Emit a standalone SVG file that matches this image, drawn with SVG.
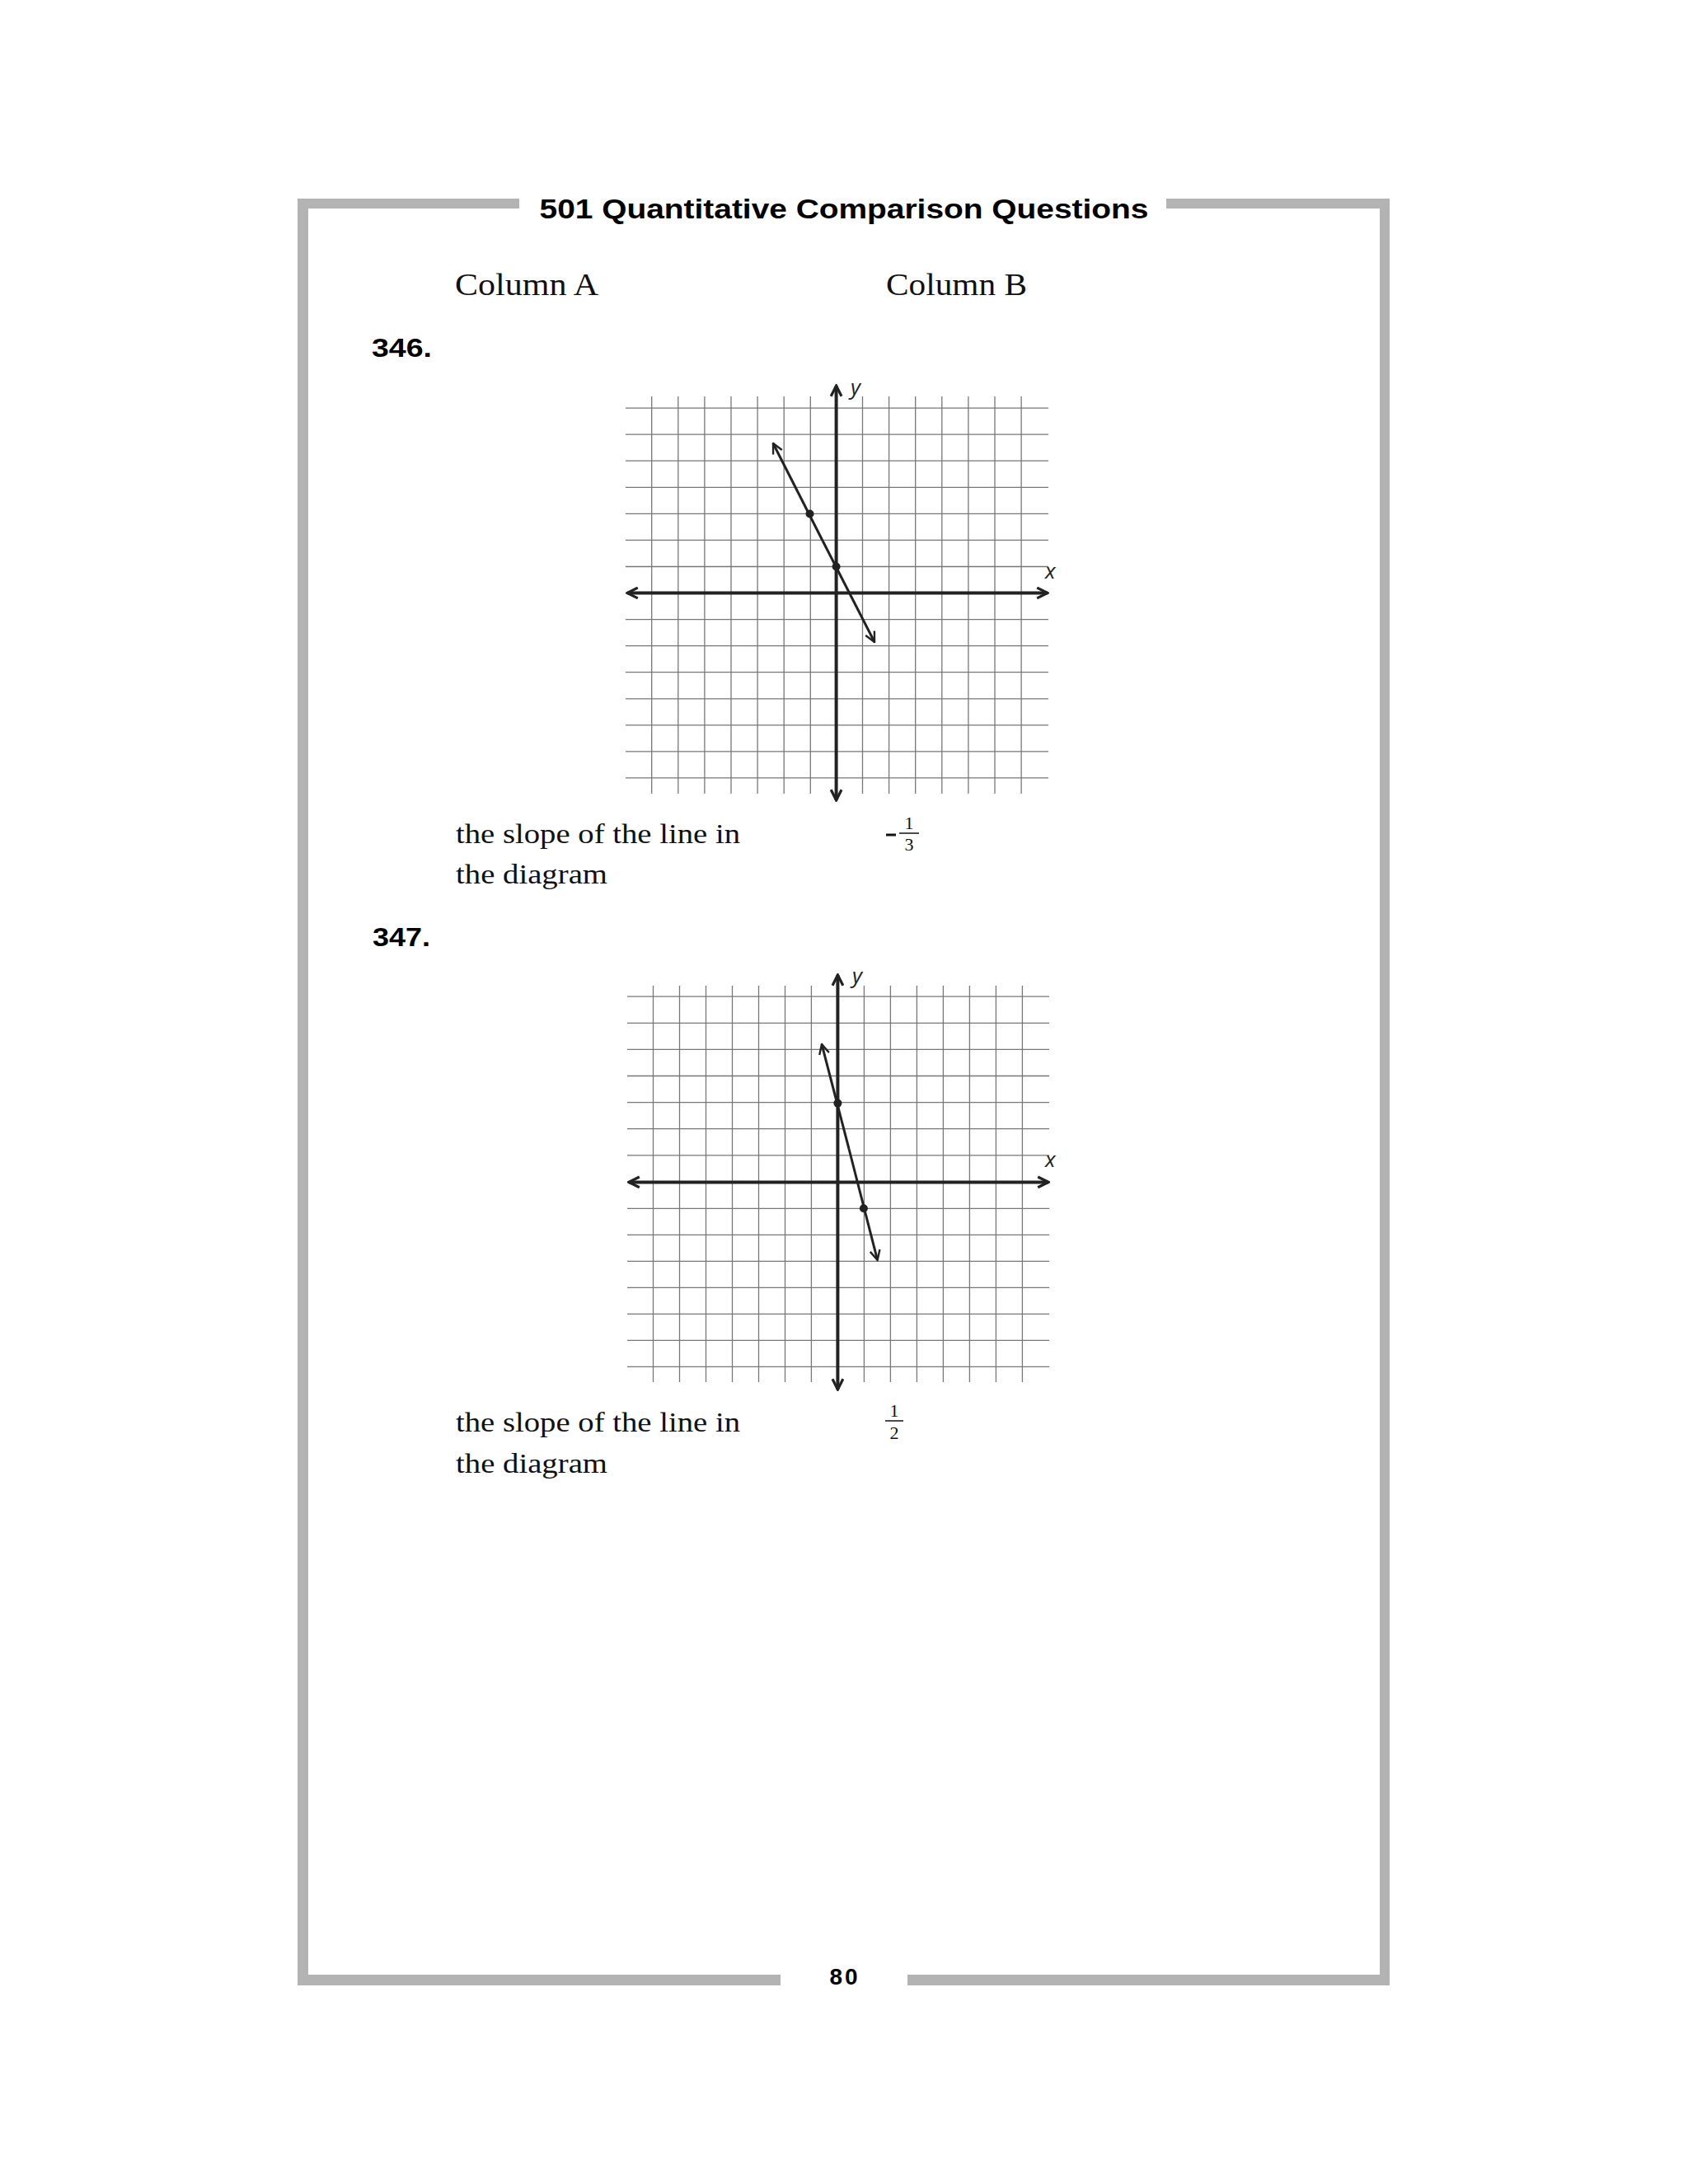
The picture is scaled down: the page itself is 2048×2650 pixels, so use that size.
<svg xmlns="http://www.w3.org/2000/svg" width="2048" height="2650" viewBox="0 0 2048 2650">
<defs>
<style>
.frame{fill:#b3b3b3}
.hd{font-family:"Liberation Sans",Arial,sans-serif;font-weight:bold;fill:#000}
.sr{font-family:"Liberation Serif","Times New Roman",serif;fill:#111}
.grid{stroke:#777;stroke-width:1.3}
.axis{stroke:#222;stroke-width:4;fill:none}
.ln{stroke:#222;stroke-width:3;fill:none}
.ital{font-family:"Open Sans","DejaVu Sans",sans-serif;font-style:italic;font-size:26px;fill:#222}
</style>
<marker id="ah" viewBox="0 0 10 10" refX="9" refY="5" markerWidth="5" markerHeight="5" orient="auto" markerUnits="strokeWidth">
<path d="M1 1L9 5L1 9" fill="none" stroke="#222" stroke-width="1.6"/>
</marker>
<marker id="ab" viewBox="0 0 10 10" refX="9" refY="5" markerWidth="4" markerHeight="4" orient="auto" markerUnits="strokeWidth">
<path d="M1 1L9 5L1 9" fill="none" stroke="#222" stroke-width="2"/>
</marker>
</defs>
<rect width="2048" height="2650" fill="#fff"/>
<g id="frame">
<rect class="frame" x="361" y="241" width="269" height="12"/>
<rect class="frame" x="1415" y="241" width="271" height="12"/>
<rect class="frame" x="361" y="241" width="13" height="2168"/>
<rect class="frame" x="1674" y="241" width="12" height="2168"/>
<rect class="frame" x="361" y="2396" width="586" height="13"/>
<rect class="frame" x="1101" y="2396" width="585" height="13"/>
</g>
<g id="header">
<text class="hd" x="1024" y="265" font-size="33" text-anchor="middle" textLength="739" lengthAdjust="spacingAndGlyphs">501 Quantitative Comparison Questions</text>
<text class="sr" x="552" y="358" font-size="38" textLength="174" lengthAdjust="spacingAndGlyphs">Column A</text>
<text class="sr" x="1075" y="358" font-size="38" textLength="171" lengthAdjust="spacingAndGlyphs">Column B</text>
<text class="hd" x="1025" y="2408" font-size="28" text-anchor="middle" letter-spacing="3">80</text>
</g>
<g id="q346">
<text class="hd" x="451" y="433" font-size="31" textLength="73" lengthAdjust="spacingAndGlyphs">346.</text>
<g id="graph1">
<g class="grid">
<line x1="759" y1="495.1" x2="1272" y2="495.1"/><line x1="759" y1="527.2" x2="1272" y2="527.2"/><line x1="759" y1="559.2" x2="1272" y2="559.2"/><line x1="759" y1="591.3" x2="1272" y2="591.3"/><line x1="759" y1="623.3" x2="1272" y2="623.3"/><line x1="759" y1="655.4" x2="1272" y2="655.4"/><line x1="759" y1="687.5" x2="1272" y2="687.5"/><line x1="759" y1="751.6" x2="1272" y2="751.6"/><line x1="759" y1="783.6" x2="1272" y2="783.6"/><line x1="759" y1="815.7" x2="1272" y2="815.7"/><line x1="759" y1="847.8" x2="1272" y2="847.8"/><line x1="759" y1="879.8" x2="1272" y2="879.8"/><line x1="759" y1="911.9" x2="1272" y2="911.9"/><line x1="759" y1="943.9" x2="1272" y2="943.9"/>
<line x1="790.7" y1="481" x2="790.7" y2="963"/><line x1="822.8" y1="481" x2="822.8" y2="963"/><line x1="854.9" y1="481" x2="854.9" y2="963"/><line x1="887" y1="481" x2="887" y2="963"/><line x1="919.1" y1="481" x2="919.1" y2="963"/><line x1="951.2" y1="481" x2="951.2" y2="963"/><line x1="983.3" y1="481" x2="983.3" y2="963"/><line x1="1046.5" y1="481" x2="1046.5" y2="963"/><line x1="1078.6" y1="481" x2="1078.6" y2="963"/><line x1="1110.7" y1="481" x2="1110.7" y2="963"/><line x1="1142.8" y1="481" x2="1142.8" y2="963"/><line x1="1174.9" y1="481" x2="1174.9" y2="963"/><line x1="1207" y1="481" x2="1207" y2="963"/><line x1="1239.1" y1="481" x2="1239.1" y2="963"/>
</g>
<line class="axis" x1="1014.6" y1="719.5" x2="1271" y2="719.5" marker-end="url(#ab)"/>
<line class="axis" x1="1014.6" y1="719.5" x2="761" y2="719.5" marker-end="url(#ab)"/>
<line class="axis" x1="1014.6" y1="719.5" x2="1014.6" y2="468" marker-end="url(#ab)"/>
<line class="axis" x1="1014.6" y1="719.5" x2="1014.6" y2="971" marker-end="url(#ab)"/>
<text class="ital" x="1032" y="479">y</text>
<text class="ital" x="1268" y="702">x</text>
<line class="ln" x1="998" y1="656" x2="938" y2="538" marker-end="url(#ah)"/>
<line class="ln" x1="998" y1="656" x2="1061" y2="779" marker-end="url(#ah)"/>
<circle cx="982.5" cy="623.5" r="5" fill="#222"/>
<circle cx="1014.6" cy="687.5" r="5" fill="#222"/>
</g>
<text class="sr" x="553" y="1023" font-size="33" textLength="345" lengthAdjust="spacingAndGlyphs">the slope of the line in</text>
<text class="sr" x="553" y="1072" font-size="33" textLength="184" lengthAdjust="spacingAndGlyphs">the diagram</text>
<line x1="1075" y1="1013" x2="1087" y2="1013" stroke="#111" stroke-width="3"/>
<text class="sr" x="1103" y="1006" font-size="22" text-anchor="middle">1</text>
<line x1="1091" y1="1011" x2="1115" y2="1011" stroke="#111" stroke-width="1.5"/>
<text class="sr" x="1103" y="1032" font-size="22" text-anchor="middle">3</text>
</g>
<g id="q347">
<text class="hd" x="452" y="1148" font-size="31" textLength="70" lengthAdjust="spacingAndGlyphs">347.</text>
<g id="graph2">
<g class="grid">
<line x1="761" y1="1209.2" x2="1273" y2="1209.2"/><line x1="761" y1="1241.3" x2="1273" y2="1241.3"/><line x1="761" y1="1273.4" x2="1273" y2="1273.4"/><line x1="761" y1="1305.5" x2="1273" y2="1305.5"/><line x1="761" y1="1337.6" x2="1273" y2="1337.6"/><line x1="761" y1="1369.7" x2="1273" y2="1369.7"/><line x1="761" y1="1401.9" x2="1273" y2="1401.9"/><line x1="761" y1="1466.3" x2="1273" y2="1466.3"/><line x1="761" y1="1498.3" x2="1273" y2="1498.3"/><line x1="761" y1="1530.3" x2="1273" y2="1530.3"/><line x1="761" y1="1562.3" x2="1273" y2="1562.3"/><line x1="761" y1="1594.3" x2="1273" y2="1594.3"/><line x1="761" y1="1626.3" x2="1273" y2="1626.3"/><line x1="761" y1="1658.3" x2="1273" y2="1658.3"/>
<line x1="792.5" y1="1196" x2="792.5" y2="1677"/><line x1="824.5" y1="1196" x2="824.5" y2="1677"/><line x1="856.5" y1="1196" x2="856.5" y2="1677"/><line x1="888.5" y1="1196" x2="888.5" y2="1677"/><line x1="920.5" y1="1196" x2="920.5" y2="1677"/><line x1="952.5" y1="1196" x2="952.5" y2="1677"/><line x1="984.4" y1="1196" x2="984.4" y2="1677"/><line x1="1048.4" y1="1196" x2="1048.4" y2="1677"/><line x1="1080.4" y1="1196" x2="1080.4" y2="1677"/><line x1="1112.4" y1="1196" x2="1112.4" y2="1677"/><line x1="1144.4" y1="1196" x2="1144.4" y2="1677"/><line x1="1176.4" y1="1196" x2="1176.4" y2="1677"/><line x1="1208.4" y1="1196" x2="1208.4" y2="1677"/><line x1="1240.4" y1="1196" x2="1240.4" y2="1677"/>
</g>
<line class="axis" x1="1016.4" y1="1434.4" x2="1272" y2="1434.4" marker-end="url(#ab)"/>
<line class="axis" x1="1016.4" y1="1434.4" x2="763" y2="1434.4" marker-end="url(#ab)"/>
<line class="axis" x1="1016.4" y1="1434.4" x2="1016.4" y2="1183" marker-end="url(#ab)"/>
<line class="axis" x1="1016.4" y1="1434.4" x2="1016.4" y2="1686" marker-end="url(#ab)"/>
<text class="ital" x="1034" y="1193">y</text>
<text class="ital" x="1268" y="1416">x</text>
<line class="ln" x1="1030" y1="1394" x2="997" y2="1267" marker-end="url(#ah)"/>
<line class="ln" x1="1030" y1="1394" x2="1064.6" y2="1529" marker-end="url(#ah)"/>
<circle cx="1016.4" cy="1338.6" r="5" fill="#222"/>
<circle cx="1047.9" cy="1466.3" r="5" fill="#222"/>
</g>
<text class="sr" x="553" y="1737" font-size="33" textLength="345" lengthAdjust="spacingAndGlyphs">the slope of the line in</text>
<text class="sr" x="553" y="1787" font-size="33" textLength="184" lengthAdjust="spacingAndGlyphs">the diagram</text>
<text class="sr" x="1085" y="1719" font-size="22" text-anchor="middle">1</text>
<line x1="1074" y1="1724" x2="1096" y2="1724" stroke="#111" stroke-width="1.5"/>
<text class="sr" x="1085" y="1746" font-size="22" text-anchor="middle">2</text>
</g>
</svg>
